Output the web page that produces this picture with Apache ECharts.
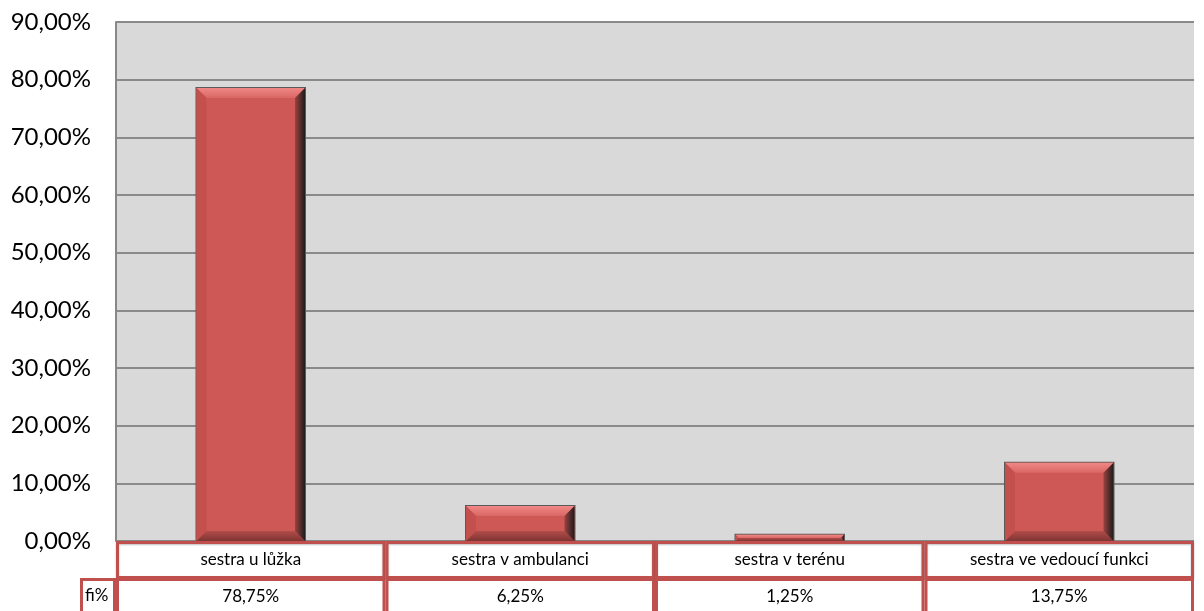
<!DOCTYPE html>
<html><head><meta charset="utf-8">
<script src="https://cdn.jsdelivr.net/npm/echarts@6/dist/echarts.min.js"></script>
<style>html,body{margin:0;padding:0;background:#fff}#c{width:1204px;height:611px}</style>
</head><body><div id="c"></div>
<script>
const categories = ['sestra u lůžka', 'sestra v ambulanci', 'sestra v terénu', 'sestra ve vedoucí funkci'];
const values = [78.75, 6.25, 1.25, 13.75];
const rowLabel = 'fi%';
const yMax = 90, yStep = 10;

const G = {left: 116, right: 10, top: 22, bottom: 70};
const W = 1204, H = 611;
const fmt = v => v.toFixed(2).replace('.', ',') + '%';

function renderBar(params, api) {
  const idx = api.value(0), val = api.value(1);
  const top = api.coord([idx, val]);
  const base = api.coord([idx, 0]);
  const w = api.size([1, 0])[0] * 0.41;
  const x = top[0] - w / 2, y = top[1], h = base[1] - top[1];
  const b = Math.min(10, h / 2 - 0.5);
  const x1 = x + 1, y1 = y + 1, x2 = x + w - 1, y2 = y + h;
  const lg = (a, c, horiz) => new echarts.graphic.LinearGradient(0, 0, horiz ? 1 : 0, horiz ? 0 : 1, [{offset: 0, color: a}, {offset: 1, color: c}]);
  return {
    type: 'group',
    children: [
      {type: 'rect', shape: {x: x, y: y, width: w, height: h}, style: {fill: '#5a5a5a'}},
      {type: 'rect', shape: {x: x1, y: y1, width: x2 - x1, height: y2 - y1}, style: {fill: '#cd5855'}},
      {type: 'polygon', shape: {points: [[x1, y1], [x2, y1], [x2 - b, y1 + b], [x1 + b, y1 + b]]}, style: {fill: lg('#f08886', '#d96764')}},
      {type: 'polygon', shape: {points: [[x1, y1], [x1 + b, y1 + b], [x1 + b, y2 - b], [x1, y2]]}, style: {fill: '#c4504e'}},
      {type: 'polygon', shape: {points: [[x1, y2], [x1 + b, y2 - b], [x2 - b, y2 - b], [x2, y2]]}, style: {fill: lg('#b24c4a', '#7e3533')}},
      {type: 'polygon', shape: {points: [[x2, y1], [x2, y2], [x2 - b, y2 - b], [x2 - b, y1 + b]]}, style: {fill: lg('#9a4240', '#1c1c1c', true)}}
    ]
  };
}

const catW = (W - G.left - G.right) / categories.length;
const y0 = H - G.bottom;
const red = '#c0504d';
const graphics = [];
categories.forEach((c, i) => {
  const x0 = G.left + i * catW;
  graphics.push({type: 'rect', shape: {x: x0 + 1.5, y: y0 + 1.5, width: catW - 3, height: 35}, style: {fill: '#fff', stroke: red, lineWidth: 3, shadowColor: 'rgba(0,0,0,0.25)', shadowBlur: 2, shadowOffsetY: 1}, z: 10});
  graphics.push({type: 'text', x: x0 + catW / 2, y: y0 + 19, style: {text: c, fill: '#000', font: '17px Lato', align: 'center', verticalAlign: 'middle'}, z: 11});
  graphics.push({type: 'rect', shape: {x: x0 + 1.5, y: y0 + 38.5, width: catW - 3, height: 40}, style: {fill: '#fff', stroke: red, lineWidth: 3}, z: 10});
  graphics.push({type: 'text', x: x0 + catW / 2, y: y0 + 56, style: {text: fmt(values[i]), fill: '#000', font: '17px Lato', align: 'center', verticalAlign: 'middle'}, z: 11});
});
graphics.push({type: 'rect', shape: {x: 81.5, y: y0 + 38.5, width: G.left - 83, height: 40}, style: {fill: '#fff', stroke: red, lineWidth: 3}, z: 10});
graphics.push({type: 'text', x: 85, y: y0 + 55, style: {text: rowLabel, fill: '#000', font: '17px Lato', align: 'left', verticalAlign: 'middle'}, z: 11});

const chart = echarts.init(document.getElementById('c'), null, {renderer: 'canvas'});
chart.setOption({
  animation: false,
  backgroundColor: '#fff',
  grid: {left: G.left, right: G.right, top: G.top, bottom: G.bottom, show: true, backgroundColor: '#d9d9d9', borderWidth: 0},
  xAxis: {type: 'category', data: categories, axisLine: {show: false}, axisTick: {show: false}, axisLabel: {show: false}, splitLine: {show: false}},
  yAxis: {
    type: 'value', min: 0, max: yMax, interval: yStep,
    axisLine: {show: true, lineStyle: {color: '#888', width: 2}},
    axisTick: {show: false},
    splitLine: {show: true, lineStyle: {color: '#8a8a8a', width: 2}},
    axisLabel: {formatter: v => fmt(v), color: '#000', fontFamily: 'Lato', fontSize: 24, margin: 25}
  },
  series: [{
    type: 'custom',
    renderItem: renderBar,
    data: values.map((v, i) => [i, v]),
    encode: {x: 0, y: 1},
    z: 5
  }],
  graphic: graphics
});
</script>
</body></html>
